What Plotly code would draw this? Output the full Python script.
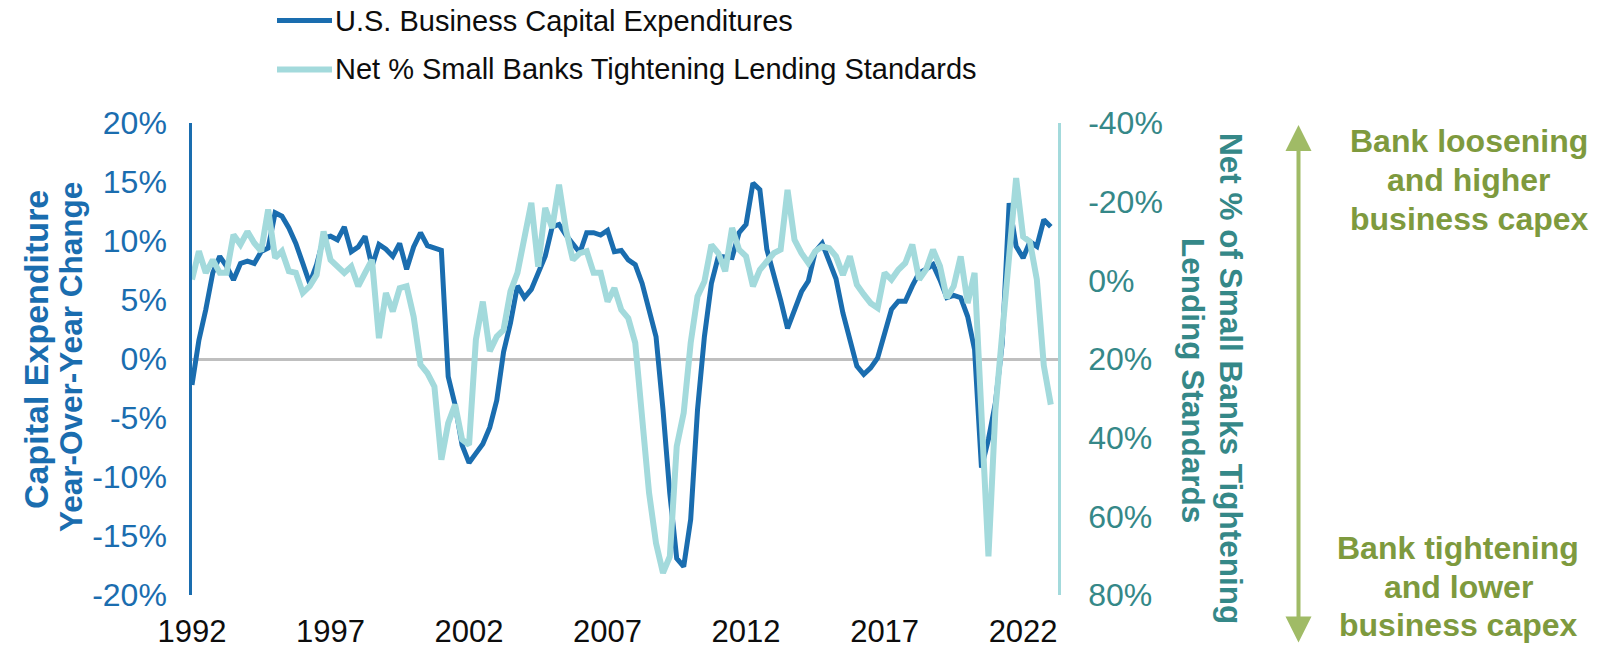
import pandas as pd
import plotly.graph_objects as go

# Quarterly observations, 1992Q1 through 2023Q1
quarters = pd.date_range("1992-01-01", periods=125, freq="QS")

# U.S. business capital expenditures, year-over-year % change (left axis)
capex_yoy = [
    -2.2, 1.6, 4.2, 7.3, 8.7, 7.85, 6.7, 8.1, 8.3, 8.1,
    9.1, 9.4, 12.4, 12.1, 11.1, 9.8, 8.1, 6.4, 8.0, 10.25,
    10.4, 10.1, 11.2, 9.1, 9.5, 10.4, 7.85, 9.7, 9.3, 8.7,
    9.8, 7.6, 9.5, 10.7, 9.6, 9.4, 9.2, -1.5, -3.9, -7.3,
    -8.8, -8.0, -7.2, -5.8, -3.5, 0.6, 3.05, 6.2, 5.2, 5.9,
    7.3, 8.7, 11.2, 11.4, 10.5, 9.7, 9.0, 10.7, 10.7, 10.5,
    10.9, 9.1, 9.2, 8.4, 8.0, 6.4, 4.2, 1.9, -4.3, -11.4,
    -16.9, -17.6, -13.6, -4.3, 1.9, 6.4, 8.7, 8.7, 8.6, 10.7,
    11.4, 14.9, 14.35, 9.3, 7.3, 5.0, 2.6, 4.2, 5.7, 6.6,
    9.1, 9.8, 8.4, 6.8, 3.9, 1.6, -0.6, -1.3, -0.75, 0.1,
    2.2, 4.2, 4.9, 4.9, 6.2, 7.3, 7.6, 8.0, 6.7, 5.2,
    5.4, 5.2, 3.6, 0.8, -9.2, -6.8, -3.7, 1.35, 13.2, 9.55,
    8.56, 9.95, 9.55, 11.8, 11.2,
]

# Net % of small banks tightening lending standards (right axis, inverted)
net_tightening = [
    -0.2, -7.4, -1.9, -5.2, -1.9, -1.9, -11.6, -9.1, -12.4, -9.5,
    -7.4, -18.0, -5.7, -7.4, -2.3, -1.9, 3.2, 1.5, -1.4, -12.4,
    -5.2, -3.5, -1.9, -3.5, 1.5, -1.9, -5.2, 14.7, 3.2, 7.9,
    2.0, 1.5, 9.2, 21.4, 23.6, 27.0, 45.6, 36.3, 31.6, 40.5,
    41.8, 15.1, 5.4, 18.0, 14.3, 12.6, 2.8, -1.9, -11.2, -19.7,
    -3.5, -18.4, -13.3, -24.3, -12.9, -5.2, -6.9, -7.4, -1.9, -1.9,
    5.4, 2.0, 7.5, 9.6, 15.9, 37.0, 54.0, 66.8, 74.4, 70.2,
    42.2, 33.7, 15.9, 4.1, 0.3, -9.0, -6.9, -2.3, -13.3, -7.8,
    -6.1, 1.5, -2.7, -4.8, -6.9, -7.8, -23.0, -10.3, -6.9, -4.4,
    -7.4, -8.6, -8.2, -6.1, -1.4, -6.1, 1.1, 3.6, 5.8, 7.0,
    -1.9, -0.2, -2.7, -4.4, -9.1, -0.2, -2.7, -7.8, -3.6, 4.5,
    1.5, -6.1, 5.8, -1.9, 33.0, 70.2, 32.9, 12.0, -7.0, -26.0,
    -11.1, -9.8, -0.2, 21.7, 31.6,
]

capex_ticks = [-20, -15, -10, -5, 0, 5, 10, 15, 20]
tightening_ticks = [-40, -20, 0, 20, 40, 60, 80]
year_ticks = [1992, 1997, 2002, 2007, 2012, 2017, 2022]

series_names = [
    "U.S. Business Capital Expenditures",
    "Net % Small Banks Tightening Lending Standards",
]
left_title = ["Capital Expenditure", "Year-Over-Year Change"]
right_title = ["Net % of Small Banks Tightening", "Lending Standards"]
upper_note = ["Bank loosening", "and higher", "business capex"]
lower_note = ["Bank tightening", "and lower", "business capex"]

# ---- styling -------------------------------------------------------------
BLUE = "#1A6DAF"
LIGHT = "#A3DADC"
TEAL = "#358888"
OLIVE = "#7E9A3E"
OLIVE_LIGHT = "#A0BB66"
ZERO = "#BFBFBF"
FONT = "Liberation Sans, Arial, sans-serif"

W, H = 1600, 649
M_L, M_R, M_T, M_B = 192, 542, 123, 54
PW, PH = W - M_L - M_R, H - M_T - M_B


def px(x):
    """Horizontal pixel position -> paper fraction."""
    return (x - M_L) / PW


def py(y):
    """Vertical pixel position (from top) -> paper fraction."""
    return (H - M_B - y) / PH


fig = go.Figure()
fig.add_trace(go.Scatter(
    x=quarters, y=capex_yoy, mode="lines", name=series_names[0],
    line=dict(color=BLUE, width=5), yaxis="y", showlegend=False,
))
fig.add_trace(go.Scatter(
    x=quarters, y=net_tightening, mode="lines", name=series_names[1],
    line=dict(color=LIGHT, width=6), yaxis="y2", showlegend=False,
))

annotations = []
shapes = []

# legend rows
for i, (name, color, width) in enumerate(zip(series_names, [BLUE, LIGHT], [5, 6])):
    yrow = 20.5 + i * 49
    shapes.append(dict(type="line", xref="paper", yref="paper",
                       x0=px(277), x1=px(332), y0=py(yrow), y1=py(yrow),
                       line=dict(color=color, width=width)))
    annotations.append(dict(text=name, xref="paper", yref="paper",
                            x=px(333), y=py(yrow), xanchor="left", yanchor="middle",
                            showarrow=False, font=dict(family=FONT, size=29, color="#0D0D0D")))

# left axis title (two rotated lines)
for text, xc, yc, size in zip(left_title, [36, 71], [350, 357], [34, 31.5]):
    annotations.append(dict(text=f"<b>{text}</b>", xref="paper", yref="paper",
                            x=px(xc), y=py(yc), xanchor="center", yanchor="middle",
                            textangle=-90, showarrow=False,
                            font=dict(family=FONT, size=size, color=BLUE)))

# right axis title (two rotated lines, reading downward)
for text, xc, yc in zip(right_title, [1231, 1193], [378, 380]):
    annotations.append(dict(text=f"<b>{text}</b>", xref="paper", yref="paper",
                            x=px(xc), y=py(yc), xanchor="center", yanchor="middle",
                            textangle=90, showarrow=False,
                            font=dict(family=FONT, size=31.5, color=TEAL)))

# side notes
for lines, xc, ys in [(upper_note, 1469, [141, 180, 219]), (lower_note, 1458, [548, 587, 625])]:
    for text, yc in zip(lines, ys):
        annotations.append(dict(text=f"<b>{text}</b>", xref="paper", yref="paper",
                                x=px(xc), y=py(yc), xanchor="center", yanchor="middle",
                                showarrow=False, font=dict(family=FONT, size=32, color=OLIVE)))

# double-headed direction arrow
annotations.append(dict(text="", xref="paper", yref="paper",
                        x=px(1298.5), y=py(125), ax=0, ay=519,
                        showarrow=True, arrowside="end+start", arrowhead=2,
                        arrowsize=1.3, arrowwidth=4, arrowcolor=OLIVE_LIGHT))

fig.update_layout(
    width=W, height=H,
    margin=dict(l=M_L, r=M_R, t=M_T, b=M_B, autoexpand=False),
    paper_bgcolor="white", plot_bgcolor="white",
    showlegend=False,
    xaxis=dict(
        type="date",
        range=[quarters[0], "2023-04-06"],
        tickvals=[pd.Timestamp(year=y, month=1, day=1) for y in year_ticks],
        ticktext=[str(y) for y in year_ticks],
        showgrid=False, zeroline=False, showline=False, ticks="",
        tickfont=dict(family=FONT, size=31, color="#0D0D0D"),
        ticklabelstandoff=15,
    ),
    yaxis=dict(
        range=[-20, 20],
        tickvals=capex_ticks,
        ticktext=[f"{v}%" for v in capex_ticks],
        showgrid=False, zeroline=True, zerolinecolor=ZERO, zerolinewidth=2.5,
        showline=True, linecolor=BLUE, linewidth=2.5, ticks="",
        tickfont=dict(family=FONT, size=32, color=BLUE),
        ticklabelstandoff=16,
    ),
    yaxis2=dict(
        overlaying="y", side="right",
        range=[80, -40],
        tickvals=tightening_ticks,
        ticktext=[f"{v}%" for v in tightening_ticks],
        showgrid=False, zeroline=False,
        showline=True, linecolor=LIGHT, linewidth=2.5, ticks="",
        tickfont=dict(family=FONT, size=32, color=TEAL),
        ticklabelstandoff=21,
    ),
    annotations=annotations,
    shapes=shapes,
)

fig.write_html("out.html")
